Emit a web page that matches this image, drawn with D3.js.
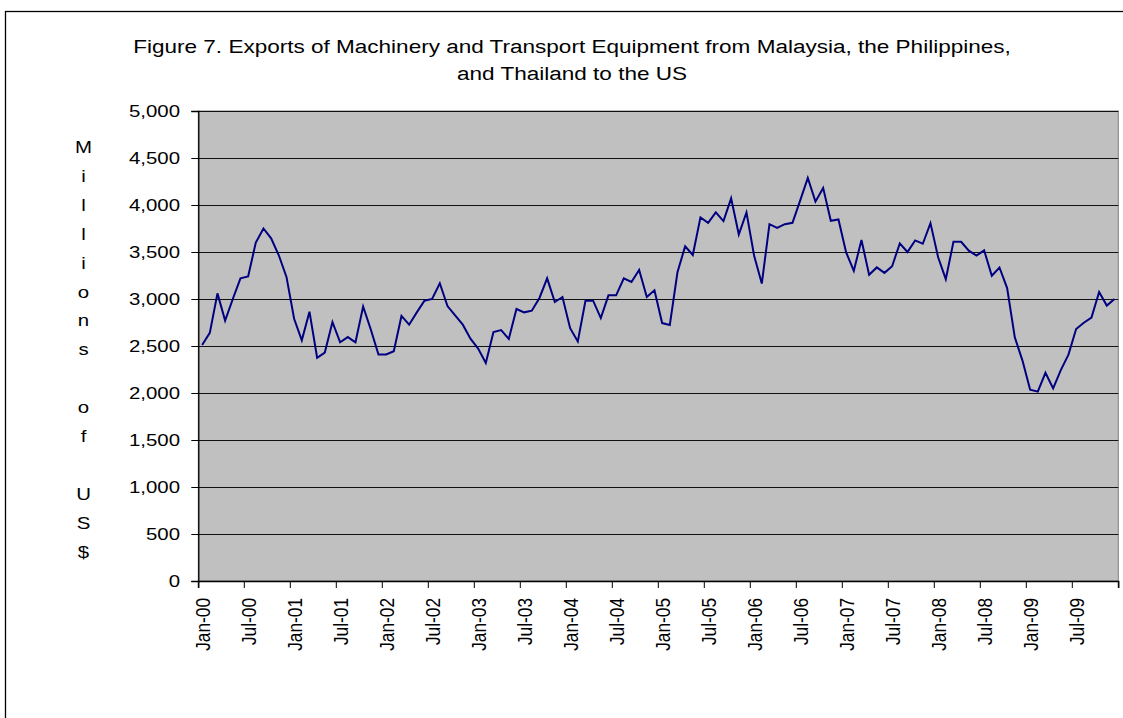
<!DOCTYPE html>
<html>
<head>
<meta charset="utf-8">
<script src="https://cdn.jsdelivr.net/npm/d3@7"></script>
<style>
  html, body { margin: 0; padding: 0; background: #fff; }
  svg { display: block; }
  text { font-family: "Liberation Sans", Arial, sans-serif; fill: #000; }
</style>
</head>
<body>
<svg id="chart" width="1123" height="718"></svg>
<script>
// ---- Data ----
const titleLines = [
  "Figure 7. Exports of Machinery and Transport Equipment from Malaysia, the Philippines,",
  "and Thailand to the US"
];
const yAxisLabel = "Millions of US$";
const years = ["00","01","02","03","04","05","06","07","08","09"];
const monthNames = ["Jan","Feb","Mar","Apr","May","Jun","Jul","Aug","Sep","Oct","Nov","Dec"];
const categories = [];
years.forEach(y => monthNames.forEach(m => categories.push(m + "-" + y)));

const exportsValues = [
  2510, 2640, 3060, 2770, 3000, 3220, 3240, 3600, 3750, 3645, 3465, 3235,
  2790, 2560, 2865, 2375, 2430, 2755, 2540, 2595, 2540, 2920, 2675, 2410,
  2410, 2445, 2820, 2727, 2858, 2982, 3000, 3167, 2925, 2826, 2727, 2578,
  2472, 2319, 2649, 2670, 2575, 2894, 2858, 2876, 3011, 3220, 2968, 3021,
  2690, 2548, 2982, 2982, 2797, 3039, 3039, 3220, 3181, 3309, 3021, 3092,
  2744, 2723, 3284, 3560, 3468, 3868, 3811, 3921, 3829, 4071, 3686, 3921,
  3461, 3164, 3796, 3757, 3796, 3811, 4046, 4289, 4036, 4182, 3832, 3846,
  3496, 3300, 3628, 3257, 3336, 3278, 3349, 3592, 3500, 3623, 3588, 3807,
  3444, 3211, 3609, 3609, 3514, 3461, 3518, 3247, 3335, 3116, 2592, 2345,
  2035, 2014, 2215, 2049, 2243, 2408, 2680, 2747, 2803, 3074, 2930, 3000
];
const yTicks = [0, 500, 1000, 1500, 2000, 2500, 3000, 3500, 4000, 4500, 5000];
const xLabelStep = 6;

// ---- Layout ----
const svg = d3.select("#chart");
const plot = { left: 198.3, right: 1118.3, top: 111, bottom: 581 };
const fontSize = 17.3;
const titleSize = 19.1;
const sx = 1.18; // horizontal stretch of glyphs in the reference

const x = d3.scaleBand().domain(categories).range([plot.left, plot.right]).padding(0);
const y = d3.scaleLinear().domain([0, 5000]).range([plot.bottom, plot.top]);
const fmt = d3.format(",");

// outer chart border
svg.append("rect")
  .attr("x", 5.5).attr("y", 11.5)
  .attr("width", 1140).attr("height", 730)
  .attr("fill", "#fff").attr("stroke", "#000").attr("stroke-width", 1.3);

// plot background
svg.append("rect")
  .attr("x", plot.left).attr("y", plot.top)
  .attr("width", plot.right - plot.left).attr("height", plot.bottom - plot.top)
  .attr("fill", "#c0c0c0").attr("stroke", "#808080").attr("stroke-width", 1);

// gridlines
svg.append("g").selectAll("line").data(yTicks.filter(d => d > 0)).join("line")
  .attr("x1", plot.left).attr("x2", plot.right)
  .attr("y1", d => Math.round(y(d)) + 0.5).attr("y2", d => Math.round(y(d)) + 0.5)
  .attr("stroke", "#111").attr("stroke-width", 1.1);

// y axis
const yAxis = svg.append("g").attr("transform", `translate(${plot.left},0)`)
  .call(d3.axisLeft(y).tickValues(yTicks).tickSize(7).tickPadding(0).tickFormat(""));
yAxis.select(".domain").attr("stroke", "#000").attr("stroke-width", 1.3);
yAxis.selectAll(".tick line").attr("stroke", "#000");

// y tick labels (stretched)
svg.append("g").selectAll("g").data(yTicks).join("g")
  .attr("transform", d => `translate(180,${y(d)}) scale(${sx},1)`)
  .append("text")
  .attr("text-anchor", "end").attr("dy", "0.35em")
  .style("font-size", fontSize + "px")
  .text(d => fmt(d));

// x axis
const xTickCats = categories.filter((c, i) => i % xLabelStep === 0);
const xAxis = svg.append("g").attr("transform", `translate(0,${plot.bottom})`)
  .call(d3.axisBottom(x).tickValues(xTickCats).tickSize(7).tickFormat(""));
xAxis.select(".domain").attr("stroke", "#000").attr("stroke-width", 1.3);
xAxis.selectAll(".tick").attr("transform", d => `translate(${x(d)},0)`);
xAxis.selectAll(".tick line").attr("stroke", "#000");
xAxis.append("line").attr("x1", plot.right).attr("x2", plot.right)
  .attr("y1", 0).attr("y2", 7).attr("stroke", "#000");

// x labels (rotated)
svg.append("g").selectAll("g").data(xTickCats).join("g")
  .attr("transform", d => `translate(${x(d) + x.bandwidth() / 2 + 1},598) scale(${sx},1) rotate(-90)`)
  .append("text")
  .attr("text-anchor", "end").attr("dy", "0.35em")
  .style("font-size", fontSize + "px")
  .text(d => d);

// line
const line = d3.line()
  .x((d, i) => x(categories[i]) + x.bandwidth() / 2)
  .y(d => y(d));
svg.append("path").datum(exportsValues)
  .attr("d", line)
  .attr("fill", "none").attr("stroke", "#000080").attr("stroke-width", 2)
  .attr("stroke-linejoin", "miter");

// title
svg.append("g").selectAll("g").data(titleLines).join("g")
  .attr("transform", (d, i) => `translate(572,${53 + i * 27}) scale(${sx},1)`)
  .append("text")
  .attr("text-anchor", "middle")
  .style("font-size", titleSize + "px")
  .text(d => d);

// stacked y axis label
const letters = yAxisLabel.split("");
svg.append("g").selectAll("g").data(letters).join("g")
  .attr("transform", (d, i) => `translate(83.5,${147 + i * 28.9}) scale(${sx},1)`)
  .append("text")
  .attr("text-anchor", "middle").attr("dy", "0.35em")
  .style("font-size", fontSize + "px")
  .text(d => d === " " ? "" : d);
</script>
</body>
</html>
